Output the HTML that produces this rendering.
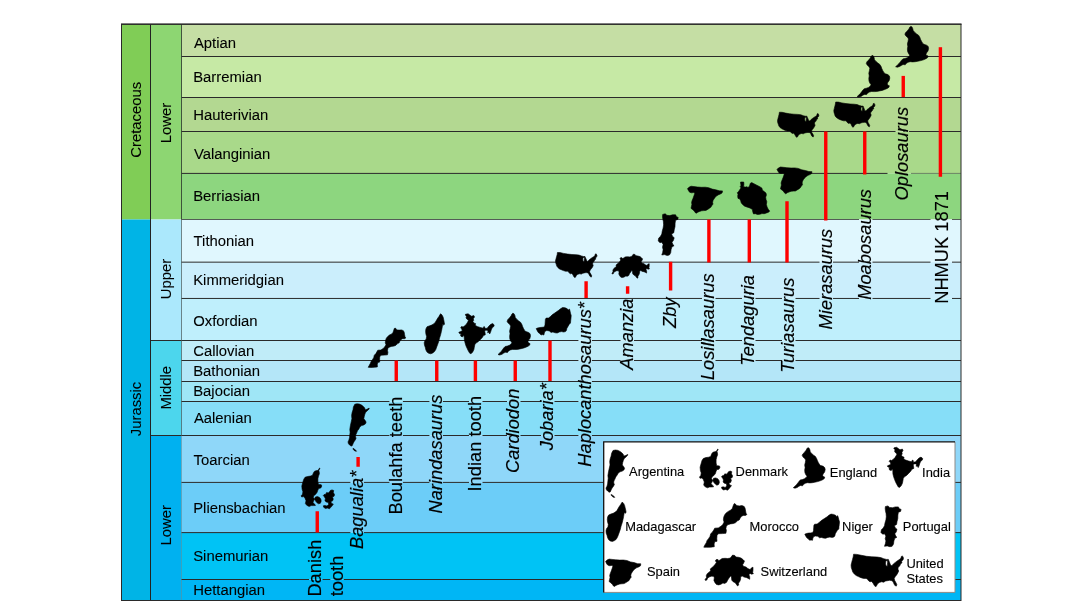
<!DOCTYPE html>
<html lang="en"><head><meta charset="utf-8"><title>Stratigraphic distribution of turiasaurian sauropods</title>
<style>html,body{margin:0;padding:0;background:#fff}body{width:1081px;height:604px;overflow:hidden}svg text{white-space:pre}</style>
</head><body>
<svg width="1081" height="604" viewBox="0 0 1081 604" style="display:block">
<rect width="1081" height="604" fill="#fff"/>
<rect x="121.5" y="24" width="29.0" height="195.5" fill="#80cd56"/>
<rect x="121.5" y="219.5" width="29.0" height="381.0" fill="#00b4e6"/>
<rect x="150.5" y="24" width="31.0" height="195.5" fill="#8dd672"/>
<rect x="150.5" y="219.5" width="31.0" height="121.0" fill="#abe8fc"/>
<rect x="150.5" y="340.5" width="31.0" height="95.0" fill="#4cd6ed"/>
<rect x="150.5" y="435.5" width="31.0" height="165.0" fill="#00b1f0"/>
<rect x="181.5" y="24" width="779.5" height="32.5" fill="#c5dea4"/>
<rect x="181.5" y="56.5" width="779.5" height="41.0" fill="#c6e9a5"/>
<rect x="181.5" y="97.5" width="779.5" height="34.0" fill="#b3d891"/>
<rect x="181.5" y="131.5" width="779.5" height="41.900000000000006" fill="#a9d98a"/>
<rect x="181.5" y="173.4" width="779.5" height="46.099999999999994" fill="#8dd67f"/>
<rect x="181.5" y="219.5" width="779.5" height="42.64999999999998" fill="#e0f7fe"/>
<rect x="181.5" y="262.15" width="779.5" height="36.30000000000001" fill="#cbeefc"/>
<rect x="181.5" y="298.45" width="779.5" height="42.05000000000001" fill="#bfeffc"/>
<rect x="181.5" y="340.5" width="779.5" height="20.0" fill="#c0ecf8"/>
<rect x="181.5" y="360.5" width="779.5" height="21.0" fill="#b4e6f8"/>
<rect x="181.5" y="381.5" width="779.5" height="20.0" fill="#9fe6f6"/>
<rect x="181.5" y="401.5" width="779.5" height="34.0" fill="#86def8"/>
<rect x="181.5" y="435.5" width="779.5" height="46.89999999999998" fill="#8fd7f9"/>
<rect x="181.5" y="482.4" width="779.5" height="50.200000000000045" fill="#6ccdf8"/>
<rect x="181.5" y="532.6" width="779.5" height="46.89999999999998" fill="#00c3f5"/>
<rect x="181.5" y="579.5" width="779.5" height="21.0" fill="#00b6f5"/>
<rect x="181.5" y="56.00" width="779.5" height="1" fill="#2a2a2a"/>
<rect x="181.5" y="97.00" width="779.5" height="1" fill="#2a2a2a"/>
<rect x="181.5" y="131.00" width="714.0" height="1" fill="#2a2a2a"/>
<rect x="909.0" y="131.00" width="52.0" height="1" fill="#2a2a2a"/>
<rect x="181.5" y="172.90" width="706.0" height="1" fill="#2a2a2a"/>
<rect x="911.0" y="172.90" width="50.0" height="1" fill="#2a2a2a" opacity="0.5"/>
<rect x="181.5" y="219.00" width="677.5" height="1" fill="#2a2a2a" opacity="0.75"/>
<rect x="872.5" y="219.00" width="58.0" height="1" fill="#2a2a2a" opacity="0.75"/>
<rect x="952.0" y="219.00" width="9.0" height="1" fill="#2a2a2a" opacity="0.75"/>
<rect x="181.5" y="261.65" width="638.0" height="1" fill="#2a2a2a"/>
<rect x="833.0" y="261.65" width="26.0" height="1" fill="#2a2a2a"/>
<rect x="872.5" y="261.65" width="58.0" height="1" fill="#2a2a2a"/>
<rect x="952.0" y="261.65" width="9.0" height="1" fill="#2a2a2a"/>
<rect x="181.5" y="297.95" width="520.5" height="1" fill="#2a2a2a"/>
<rect x="715.5" y="297.95" width="26.5" height="1" fill="#2a2a2a"/>
<rect x="755.5" y="297.95" width="26.5" height="1" fill="#2a2a2a"/>
<rect x="795.5" y="297.95" width="24.0" height="1" fill="#2a2a2a"/>
<rect x="833.0" y="297.95" width="26.0" height="1" fill="#2a2a2a"/>
<rect x="872.5" y="297.95" width="58.0" height="1" fill="#2a2a2a"/>
<rect x="952.0" y="297.95" width="9.0" height="1" fill="#2a2a2a"/>
<rect x="181.5" y="340.00" width="396.9" height="1" fill="#2a2a2a"/>
<rect x="591.9" y="340.00" width="28.6" height="1" fill="#2a2a2a"/>
<rect x="634.0" y="340.00" width="68.0" height="1" fill="#2a2a2a"/>
<rect x="715.5" y="340.00" width="26.5" height="1" fill="#2a2a2a"/>
<rect x="755.5" y="340.00" width="26.5" height="1" fill="#2a2a2a"/>
<rect x="795.5" y="340.00" width="165.5" height="1" fill="#2a2a2a"/>
<rect x="181.5" y="360.00" width="396.9" height="1" fill="#2a2a2a"/>
<rect x="591.9" y="360.00" width="28.6" height="1" fill="#2a2a2a"/>
<rect x="634.0" y="360.00" width="68.0" height="1" fill="#2a2a2a"/>
<rect x="715.5" y="360.00" width="26.5" height="1" fill="#2a2a2a"/>
<rect x="755.5" y="360.00" width="26.5" height="1" fill="#2a2a2a"/>
<rect x="795.5" y="360.00" width="165.5" height="1" fill="#2a2a2a"/>
<rect x="181.5" y="381.00" width="396.9" height="1" fill="#2a2a2a"/>
<rect x="591.9" y="381.00" width="369.1" height="1" fill="#2a2a2a"/>
<rect x="181.5" y="401.00" width="207.9" height="1" fill="#2a2a2a"/>
<rect x="402.9" y="401.00" width="26.5" height="1" fill="#2a2a2a"/>
<rect x="442.9" y="401.00" width="26.1" height="1" fill="#2a2a2a"/>
<rect x="482.5" y="401.00" width="24.5" height="1" fill="#2a2a2a"/>
<rect x="520.5" y="401.00" width="20.5" height="1" fill="#2a2a2a"/>
<rect x="554.5" y="401.00" width="23.9" height="1" fill="#2a2a2a"/>
<rect x="591.9" y="401.00" width="369.1" height="1" fill="#2a2a2a"/>
<rect x="181.5" y="435.00" width="207.9" height="1" fill="#2a2a2a"/>
<rect x="402.9" y="435.00" width="26.5" height="1" fill="#2a2a2a"/>
<rect x="442.9" y="435.00" width="26.1" height="1" fill="#2a2a2a"/>
<rect x="482.5" y="435.00" width="24.5" height="1" fill="#2a2a2a"/>
<rect x="520.5" y="435.00" width="20.5" height="1" fill="#2a2a2a"/>
<rect x="554.5" y="435.00" width="23.9" height="1" fill="#2a2a2a"/>
<rect x="591.9" y="435.00" width="369.1" height="1" fill="#2a2a2a"/>
<rect x="181.5" y="481.90" width="168.9" height="1" fill="#2a2a2a"/>
<rect x="363.9" y="481.90" width="25.5" height="1" fill="#2a2a2a"/>
<rect x="402.9" y="481.90" width="26.5" height="1" fill="#2a2a2a"/>
<rect x="442.9" y="481.90" width="26.1" height="1" fill="#2a2a2a"/>
<rect x="482.5" y="481.90" width="478.5" height="1" fill="#2a2a2a"/>
<rect x="181.5" y="532.10" width="168.9" height="1" fill="#2a2a2a"/>
<rect x="363.9" y="532.10" width="597.1" height="1" fill="#2a2a2a"/>
<rect x="181.5" y="579.00" width="127.5" height="1" fill="#2a2a2a"/>
<rect x="322.5" y="579.00" width="7.8" height="1" fill="#2a2a2a"/>
<rect x="343.8" y="579.00" width="617.2" height="1" fill="#2a2a2a"/>
<rect x="150.5" y="340.0" width="31.0" height="1" fill="#2a2a2a"/>
<rect x="150.5" y="435.0" width="31.0" height="1" fill="#2a2a2a"/>
<rect x="150.0" y="24" width="1" height="576.5" fill="#222"/>
<rect x="181.0" y="24" width="1" height="195.5" fill="#2a3a2a" opacity="0.85"/>
<rect x="181.0" y="219.5" width="1" height="216.0" fill="#2a3a3a" opacity="0.6"/>
<rect x="181.0" y="435.5" width="1" height="165.0" fill="#2a3a3a" opacity="0.3"/>
<rect x="121.5" y="24" width="839.5" height="576.5" fill="none" stroke="#2a2a2a" stroke-width="1"/>
<rect x="121.0" y="23.8" width="840.5" height="1.1" fill="#2a2a2a"/>
<g font-family="Liberation Sans, Arial, sans-serif" font-size="14.85" fill="#000" stroke="#000" stroke-width="0.08">
<text x="193.9" y="48.25">Aptian</text>
<text x="193.2" y="81.5">Barremian</text>
<text x="193.2" y="120">Hauterivian</text>
<text x="193.9" y="159.25">Valanginian</text>
<text x="193.2" y="201.25">Berriasian</text>
<text x="193.6" y="246.45">Tithonian</text>
<text x="193.2" y="285.2">Kimmeridgian</text>
<text x="193.2" y="325.75">Oxfordian</text>
<text x="193.2" y="355.75">Callovian</text>
<text x="193.2" y="375.75">Bathonian</text>
<text x="193.2" y="396.25">Bajocian</text>
<text x="193.9" y="423.25">Aalenian</text>
<text x="193.6" y="464.75">Toarcian</text>
<text x="193.2" y="513">Pliensbachian</text>
<text x="193.2" y="561">Sinemurian</text>
<text x="193.2" y="594.75">Hettangian</text>
<text transform="translate(141,119.75) rotate(-90)" text-anchor="middle" >Cretaceous</text>
<text transform="translate(141,409) rotate(-90)" text-anchor="middle" >Jurassic</text>
<text transform="translate(170.5,123.1) rotate(-90)" text-anchor="middle" >Lower</text>
<text transform="translate(170.5,279) rotate(-90)" text-anchor="middle" >Upper</text>
<text transform="translate(170.5,387.75) rotate(-90)" text-anchor="middle" >Middle</text>
<text transform="translate(170.5,525.25) rotate(-90)" text-anchor="middle" >Lower</text>
</g>
<rect x="315.55" y="511.25" width="3.4" height="21.25" fill="#fe0000"/>
<rect x="356.40" y="457" width="3.4" height="9.75" fill="#fe0000"/>
<rect x="394.55" y="360.5" width="3.4" height="20.50" fill="#fe0000"/>
<rect x="435.05" y="360.5" width="3.4" height="20.50" fill="#fe0000"/>
<rect x="473.70" y="360.5" width="3.4" height="20.50" fill="#fe0000"/>
<rect x="513.55" y="360.5" width="3.4" height="20.50" fill="#fe0000"/>
<rect x="548.30" y="340.5" width="3.4" height="40.50" fill="#fe0000"/>
<rect x="584.40" y="281.25" width="3.4" height="16.75" fill="#fe0000"/>
<rect x="625.90" y="286.25" width="3.4" height="7.50" fill="#fe0000"/>
<rect x="668.90" y="261.75" width="3.4" height="28.75" fill="#fe0000"/>
<rect x="707.20" y="219.5" width="3.4" height="43.00" fill="#fe0000"/>
<rect x="747.60" y="219.5" width="3.4" height="43.00" fill="#fe0000"/>
<rect x="785.30" y="201.25" width="3.4" height="61.25" fill="#fe0000"/>
<rect x="824.05" y="131.5" width="3.4" height="89.00" fill="#fe0000"/>
<rect x="863.05" y="131.5" width="3.4" height="43.00" fill="#fe0000"/>
<rect x="901.55" y="75.9" width="3.4" height="21.20" fill="#fe0000"/>
<rect x="938.70" y="47.2" width="3.4" height="129.55" fill="#fe0000"/>
<g font-family="Liberation Sans, Arial, sans-serif" font-size="18.3" fill="#000" stroke="#000" stroke-width="0.15">
<text transform="translate(321.3,596.6) rotate(-90)">Danish</text>
<text transform="translate(342.6,596.3) rotate(-90)">tooth</text>
<text transform="translate(362.7,549) rotate(-90)" font-style="italic">Bagualia*</text>
<text transform="translate(401.7,514.5) rotate(-90)">Boulahfa teeth</text>
<text transform="translate(441.7,513.5) rotate(-90)" font-style="italic">Narindasaurus</text>
<text transform="translate(481.3,491.5) rotate(-90)">Indian tooth</text>
<text transform="translate(519.3,473) rotate(-90)" font-style="italic">Cardiodon</text>
<text transform="translate(553.3,450.2) rotate(-90)" font-style="italic">Jobaria*</text>
<text transform="translate(590.7,466.7) rotate(-90)" font-style="italic">Haplocanthosaurus*</text>
<text transform="translate(632.8,369.7) rotate(-90)" font-style="italic">Amanzia</text>
<text transform="translate(675.8,328) rotate(-90)" font-style="italic">Zby</text>
<text transform="translate(714.3,380.1) rotate(-90)" font-style="italic">Losillasaurus</text>
<text transform="translate(754.3,365.8) rotate(-90)" font-style="italic">Tendaguria</text>
<text transform="translate(794.3,372.8) rotate(-90)" font-style="italic">Turiasaurus</text>
<text transform="translate(831.8,329.4) rotate(-90)" font-style="italic">Mierasaurus</text>
<text transform="translate(871.3,299.8) rotate(-90)" font-style="italic">Moabosaurus</text>
<text transform="translate(907.8,200.4) rotate(-90)" font-style="italic">Oplosaurus</text>
<text transform="translate(947.7,303.8) rotate(-90)">NHMUK 1871</text>
</g>
<g fill="#000" fill-rule="evenodd" stroke="#000" stroke-width="0.6" stroke-linejoin="round">
<path d="M319.6 468.0 L320.0 468.2 L318.8 470.5 L319.2 471.9 L319.4 473.7 L318.5 476.1 L317.9 478.6 L317.9 481.9 L318.5 484.5 L321.2 484.7 L321.8 486.0 L320.8 488.0 L318.7 488.4 L317.9 490.1 L317.0 492.5 L315.4 494.6 L313.7 495.8 L313.3 497.4 L314.6 499.1 L313.7 500.7 L312.9 502.4 L314.6 504.0 L315.4 505.5 L313.3 505.6 L311.2 505.6 L309.1 506.5 L306.7 505.2 L305.4 503.6 L306.0 500.7 L305.0 498.3 L303.7 496.6 L301.7 497.0 L301.2 495.8 L302.5 494.2 L302.9 491.7 L302.1 489.2 L301.8 486.0 L302.7 482.7 L303.7 479.4 L305.0 477.3 L307.5 476.5 L310.4 476.1 L312.5 475.3 L313.5 472.7 L314.6 471.2 L316.6 470.6 L318.0 470.4ZM315.4 497.0 L317.5 496.6 L319.5 497.4 L320.8 499.1 L321.2 501.1 L320.4 503.2 L318.7 503.8 L317.0 502.8 L315.6 501.1 L314.6 499.1ZM330.3 490.5 L332.0 489.9 L333.7 490.5 L333.3 492.5 L334.5 494.6 L334.1 496.2 L332.4 497.0 L333.3 499.1 L332.4 501.1 L330.8 501.5 L331.6 503.6 L333.3 504.0 L332.4 505.6 L330.8 507.3 L329.5 508.8 L327.4 508.1 L325.4 508.5 L323.7 507.3 L323.3 505.8 L324.9 505.5 L327.0 506.0 L328.7 504.4 L328.3 502.4 L326.2 501.9 L324.9 500.7 L325.4 498.7 L324.5 497.0 L323.3 495.4 L324.1 494.6 L325.8 494.2 L326.6 492.5 L328.3 492.9 L329.5 491.7Z"/>
<path d="M354.8 404.2 L357.0 403.8 L359.3 404.0 L361.6 405.1 L363.4 406.5 L364.7 407.9 L365.2 409.8 L367.0 409.3 L369.1 408.1 L369.2 408.9 L367.4 410.7 L365.8 412.1 L364.9 414.0 L364.3 416.3 L363.8 418.7 L365.2 420.5 L366.1 422.1 L365.5 423.8 L363.8 424.9 L361.6 425.6 L359.8 427.0 L358.9 428.9 L357.5 430.8 L356.6 433.1 L355.7 435.0 L355.5 436.8 L356.1 438.2 L355.2 440.1 L353.9 441.9 L353.0 443.8 L352.2 445.7 L351.2 446.1 L349.8 445.2 L348.5 443.8 L348.0 441.9 L348.9 440.1 L349.5 437.7 L349.8 435.0 L350.1 432.2 L349.8 429.4 L350.4 425.6 L351.2 421.9 L351.9 418.7 L351.6 415.4 L352.1 412.6 L353.0 409.8 L353.4 407.0ZM353.0 448.3 L354.3 449.1 L355.9 450.4 L356.6 451.2 L355.7 451.2 L354.1 450.4 L353.2 449.3Z"/>
<path d="M394.9 328.0 L396.0 328.6 L396.8 329.9 L399.2 330.1 L401.5 329.9 L403.4 330.7 L404.2 332.3 L404.6 334.7 L405.0 336.7 L405.8 337.9 L404.6 338.7 L402.6 338.7 L401.1 339.5 L399.9 341.1 L399.2 342.8 L397.6 343.6 L396.0 345.2 L394.1 346.0 L391.4 346.4 L389.1 347.2 L387.9 348.4 L387.5 350.4 L387.9 352.4 L387.5 354.8 L384.4 355.1 L380.9 355.2 L379.7 356.9 L379.6 359.7 L379.7 362.1 L377.8 362.5 L377.3 364.5 L377.4 366.9 L374.3 367.3 L370.8 367.5 L368.2 367.3 L369.3 365.3 L370.4 363.3 L371.2 361.3 L372.4 359.7 L373.7 357.7 L374.3 355.2 L375.9 353.6 L377.0 351.6 L377.8 350.2 L380.9 350.0 L383.2 348.4 L384.8 346.8 L386.0 344.8 L385.3 342.8 L385.6 340.3 L386.3 338.3 L387.5 336.7 L389.4 335.1 L391.8 333.9 L393.1 332.3 L393.7 330.3 L394.3 328.6Z"/>
<path d="M440.8 313.8 L442.0 315.0 L443.1 317.1 L443.7 319.6 L444.2 322.2 L444.5 324.3 L443.7 325.1 L442.8 324.3 L442.4 326.0 L442.0 328.5 L441.4 331.4 L440.6 334.8 L439.5 338.2 L438.7 341.5 L437.8 344.1 L436.7 347.0 L435.8 349.5 L434.5 351.6 L432.8 352.9 L430.8 353.8 L428.7 353.3 L427.0 352.1 L425.9 350.0 L425.3 347.4 L424.5 345.3 L424.2 342.8 L424.9 340.7 L426.2 339.0 L426.6 336.5 L425.9 334.0 L425.6 331.4 L425.9 328.9 L427.0 326.8 L429.1 326.0 L431.6 325.1 L433.7 323.9 L435.3 322.2 L436.6 320.1 L437.8 318.0 L439.1 316.3 L439.9 314.6Z"/>
<path d="M465.6 314.2 L468.1 313.8 L469.8 315.0 L471.4 316.2 L473.9 315.6 L474.5 317.0 L473.3 318.7 L473.7 320.3 L472.9 321.6 L474.3 323.2 L475.6 323.6 L475.2 325.3 L477.2 326.5 L480.1 327.4 L483.1 328.2 L483.9 326.5 L484.7 326.9 L485.0 328.6 L487.2 328.2 L488.9 326.1 L490.5 324.5 L492.6 323.5 L494.2 324.9 L493.8 326.5 L492.2 327.8 L491.3 329.8 L490.5 332.3 L489.7 334.0 L488.9 332.3 L487.6 332.7 L488.0 331.1 L487.2 330.2 L485.5 330.2 L484.7 331.1 L485.1 333.1 L485.3 334.8 L483.5 335.6 L482.2 337.7 L480.1 339.7 L478.1 341.8 L476.0 343.0 L474.8 344.7 L474.3 347.2 L473.9 349.6 L472.7 352.1 L471.0 353.8 L469.8 353.3 L468.5 351.3 L467.3 348.8 L466.0 345.9 L465.1 343.0 L464.4 340.1 L464.2 337.3 L464.0 335.2 L462.7 336.8 L461.1 336.4 L460.4 334.8 L461.5 334.0 L459.4 333.4 L458.8 332.3 L460.7 331.5 L462.3 330.7 L461.7 329.0 L460.7 327.8 L461.5 326.5 L463.1 326.9 L464.8 325.7 L466.5 324.1 L467.7 322.0 L468.5 320.3 L467.3 319.5 L466.0 317.9 L466.5 316.2 L465.2 315.0Z"/>
<path d="M512.8 313.2 L514.0 313.7 L514.9 315.4 L515.3 317.5 L516.7 319.2 L518.7 320.9 L520.5 322.2 L521.8 324.3 L522.6 326.5 L523.5 328.5 L524.6 330.4 L525.9 331.6 L527.1 331.9 L528.6 332.5 L530.1 333.7 L530.5 335.9 L529.9 338.4 L528.6 340.1 L527.9 341.8 L528.6 343.0 L530.0 343.6 L529.7 345.1 L528.0 346.3 L525.4 347.4 L522.9 348.3 L519.9 348.9 L517.4 349.4 L514.9 349.5 L512.4 349.4 L510.2 350.0 L508.3 351.2 L507.5 352.5 L505.3 352.3 L503.7 353.1 L502.0 354.3 L499.7 355.0 L498.0 354.5 L499.7 353.0 L501.4 351.2 L502.6 349.5 L503.9 347.8 L505.2 346.5 L507.3 346.1 L509.4 345.3 L511.1 344.0 L511.9 342.7 L510.7 341.0 L509.8 338.9 L509.6 336.3 L510.0 333.7 L509.6 331.2 L510.2 328.6 L510.7 326.1 L509.6 324.3 L508.1 323.1 L507.1 321.4 L507.7 319.7 L509.4 317.9 L511.1 315.8 L511.9 314.1Z"/>
<path d="M562.6 307.5 L565.1 307.8 L567.3 308.8 L568.4 309.9 L569.5 309.1 L570.0 311.0 L570.5 313.3 L571.2 315.5 L571.0 318.1 L570.7 320.8 L570.5 323.0 L569.1 324.5 L568.0 326.4 L566.9 328.3 L566.4 330.5 L565.5 331.6 L563.7 332.0 L561.5 331.6 L559.4 332.0 L557.2 333.0 L555.1 332.8 L552.9 332.0 L551.1 332.4 L549.3 330.9 L546.8 330.5 L545.0 331.3 L544.3 333.1 L543.9 335.0 L542.5 334.6 L541.1 335.0 L539.6 333.5 L538.2 332.4 L537.1 330.5 L536.2 328.6 L537.8 327.9 L540.0 327.5 L542.1 327.3 L544.3 327.0 L545.0 324.9 L545.2 321.9 L545.4 319.3 L546.1 318.1 L548.6 318.0 L550.4 316.6 L552.2 314.8 L554.4 313.3 L556.5 311.8 L558.7 310.3 L560.5 308.8Z"/>
<path d="M557.4 252.5 L560.1 252.6 L563.6 253.4 L567.8 254.1 L571.9 254.5 L576.0 254.7 L579.0 255.1 L581.4 255.9 L583.4 256.5 L585.0 256.5 L585.5 257.8 L586.1 259.1 L586.7 260.8 L587.8 261.4 L589.0 260.0 L590.5 258.8 L592.0 257.7 L593.5 256.8 L594.9 255.7 L595.2 254.2 L596.1 253.8 L597.0 255.4 L596.7 256.8 L595.5 258.0 L595.8 259.1 L594.6 260.0 L594.0 261.4 L592.9 262.6 L592.6 264.0 L593.2 265.4 L592.6 266.9 L591.7 268.3 L590.5 269.7 L589.6 271.2 L589.9 272.6 L590.8 274.1 L591.7 275.8 L591.4 277.1 L590.2 276.6 L589.3 275.2 L588.7 273.8 L587.8 272.9 L586.1 272.6 L584.3 272.9 L582.8 273.2 L581.4 274.1 L579.6 273.8 L577.8 274.3 L576.3 275.5 L575.5 277.2 L574.6 277.5 L573.7 276.4 L572.8 274.6 L571.6 273.5 L570.4 273.8 L569.5 273.2 L568.7 272.0 L567.5 271.2 L565.4 271.2 L563.4 270.6 L561.3 269.7 L559.5 268.9 L558.0 267.7 L556.9 266.3 L556.3 264.6 L555.7 262.8 L555.5 260.8 L556.0 258.8 L556.6 256.5 L557.2 254.5ZM583.0 257.7 L584.2 257.3 L584.5 258.5 L584.2 260.3 L584.1 261.8 L583.2 261.5 L582.8 260.0 L582.9 258.7Z"/>
<path d="M633.3 254.2 L635.0 254.5 L635.9 255.7 L637.9 256.0 L640.0 256.6 L641.4 257.7 L642.6 258.9 L642.0 260.4 L641.1 261.8 L641.7 263.0 L643.7 263.5 L645.2 264.7 L646.9 265.6 L648.1 264.1 L649.2 263.7 L649.2 265.9 L648.9 267.9 L649.5 268.8 L648.1 269.2 L646.9 268.5 L646.0 269.6 L646.6 271.1 L646.6 273.1 L645.2 272.3 L644.0 271.7 L642.3 271.4 L640.8 270.5 L639.7 271.1 L639.5 273.0 L639.0 274.6 L637.9 276.2 L638.0 277.7 L637.1 278.2 L636.3 277.1 L635.3 275.8 L633.8 275.0 L632.7 273.8 L632.4 271.1 L631.8 270.5 L630.7 272.0 L629.5 273.7 L628.7 275.5 L627.2 276.3 L625.8 276.0 L624.3 276.9 L622.6 277.5 L620.9 277.2 L619.7 275.8 L618.8 274.0 L619.1 272.0 L618.5 270.8 L616.8 270.7 L615.1 271.4 L613.9 272.3 L613.3 273.7 L612.2 274.0 L612.0 273.1 L613.0 272.0 L612.9 270.2 L613.6 268.8 L615.1 267.6 L616.2 266.5 L616.1 265.0 L617.1 264.1 L618.5 263.0 L620.0 261.2 L620.9 259.8 L619.9 258.9 L620.6 257.7 L622.0 257.7 L622.6 258.6 L623.7 257.9 L625.2 256.9 L627.5 256.7 L629.5 256.9 L631.6 256.6 L632.4 255.4Z"/>
<path d="M662.7 214.4 L665.4 213.8 L666.7 215.3 L669.8 215.6 L672.5 214.8 L675.6 214.8 L676.5 216.7 L678.2 217.4 L677.8 219.4 L675.6 220.3 L675.1 223.1 L675.0 226.7 L674.2 229.9 L673.8 232.7 L671.6 234.0 L672.5 236.3 L674.2 237.7 L673.4 240.4 L672.0 242.3 L672.9 244.5 L674.1 245.7 L672.0 246.8 L671.1 249.6 L670.7 252.8 L669.4 255.0 L667.1 255.5 L664.5 254.6 L661.8 255.0 L662.7 252.3 L663.1 249.6 L662.5 247.3 L663.1 244.5 L661.8 242.3 L660.0 242.7 L658.2 240.9 L658.7 238.1 L660.5 236.3 L661.8 234.0 L662.2 231.3 L663.1 228.1 L663.6 224.9 L663.4 221.7 L662.7 218.5 L662.5 216.2Z"/>
<path d="M691.0 186.2 L693.9 186.6 L697.4 187.0 L701.6 187.3 L705.2 187.2 L708.7 187.7 L712.2 189.1 L715.8 189.8 L719.3 190.8 L722.5 190.9 L722.1 192.9 L720.4 194.0 L718.6 194.7 L716.8 195.7 L715.4 197.1 L714.0 198.9 L713.0 200.6 L712.6 202.4 L713.0 204.1 L711.9 205.5 L710.8 207.3 L709.4 208.3 L707.7 209.4 L705.9 210.4 L703.8 210.6 L701.6 210.8 L699.5 211.5 L697.8 212.2 L696.3 213.2 L695.3 212.7 L694.2 211.1 L692.8 209.7 L691.0 208.3 L691.4 206.6 L691.9 204.5 L691.6 202.4 L692.1 200.6 L692.8 198.9 L693.5 197.1 L694.2 195.0 L694.9 192.9 L693.5 192.6 L691.4 192.8 L689.6 192.2 L688.6 190.8 L687.5 188.7 L688.9 187.3Z"/>
<path d="M740.6 182.0 L743.7 182.0 L743.9 184.1 L743.6 186.7 L745.4 187.1 L746.9 186.7 L748.0 187.5 L749.6 186.0 L750.2 183.4 L751.7 182.6 L753.9 183.7 L756.8 185.2 L759.8 186.7 L762.0 188.2 L762.3 190.1 L764.2 191.6 L766.0 193.1 L766.4 195.0 L765.7 197.2 L766.0 199.5 L766.8 201.7 L766.4 204.4 L767.1 207.0 L768.2 209.2 L769.7 211.1 L768.6 212.2 L766.4 213.0 L764.2 213.7 L762.0 213.6 L759.8 214.3 L757.5 214.5 L755.3 213.7 L753.5 213.9 L752.8 211.9 L752.4 209.6 L750.9 208.5 L749.1 207.7 L746.9 207.0 L744.7 206.2 L742.8 204.7 L741.3 202.9 L740.6 200.6 L739.5 198.7 L738.0 198.4 L737.7 196.1 L738.0 194.2 L737.3 192.7 L738.8 191.2 L739.9 189.4 L741.0 187.9 L740.2 186.7 L741.0 185.2 L740.6 183.4Z"/>
<path d="M780.5 167.0 L783.4 167.3 L786.9 167.7 L791.1 168.0 L794.7 167.9 L798.2 168.4 L801.7 169.8 L805.3 170.5 L808.8 171.5 L812.0 171.7 L811.6 173.6 L809.9 174.6 L808.1 175.3 L806.3 176.4 L804.9 177.8 L803.5 179.5 L802.5 181.2 L802.1 183.0 L802.5 184.7 L801.4 186.1 L800.3 187.8 L798.9 188.9 L797.2 189.9 L795.4 191.0 L793.3 191.1 L791.1 191.3 L789.0 192.0 L787.3 192.7 L785.8 193.8 L784.8 193.2 L783.7 191.7 L782.3 190.3 L780.5 188.9 L780.9 187.1 L781.4 185.1 L781.1 183.0 L781.6 181.2 L782.3 179.5 L783.0 177.8 L783.7 175.7 L784.4 173.6 L783.0 173.3 L780.9 173.5 L779.1 172.9 L778.1 171.5 L777.0 169.4 L778.4 168.0Z"/>
<path d="M779.4 112.2 L782.1 112.3 L785.6 113.1 L789.7 113.8 L793.9 114.2 L798.0 114.4 L800.9 114.8 L803.3 115.7 L805.4 116.2 L806.9 116.2 L807.4 117.5 L808.0 118.8 L808.6 120.6 L809.8 121.1 L810.9 119.7 L812.4 118.5 L813.9 117.4 L815.4 116.5 L816.8 115.4 L817.1 113.9 L818.0 113.5 L818.9 115.1 L818.6 116.5 L817.4 117.7 L817.7 118.8 L816.5 119.7 L816.0 121.1 L814.8 122.3 L814.5 123.7 L815.1 125.2 L814.5 126.6 L813.6 128.1 L812.4 129.5 L811.5 131.0 L811.8 132.4 L812.7 133.8 L813.6 135.6 L813.3 136.9 L812.1 136.4 L811.2 135.0 L810.7 133.5 L809.8 132.7 L808.0 132.4 L806.2 132.7 L804.8 133.0 L803.3 133.8 L801.5 133.5 L799.8 134.1 L798.3 135.3 L797.4 137.0 L796.5 137.3 L795.6 136.1 L794.8 134.4 L793.6 133.3 L792.4 133.5 L791.5 133.0 L790.6 131.8 L789.5 131.0 L787.4 131.0 L785.3 130.4 L783.3 129.5 L781.5 128.6 L780.0 127.5 L778.9 126.0 L778.3 124.3 L777.7 122.6 L777.5 120.6 L778.0 118.5 L778.6 116.2 L779.1 114.2ZM804.9 117.4 L806.1 117.0 L806.4 118.3 L806.2 120.0 L806.1 121.5 L805.1 121.3 L804.7 119.7 L804.8 118.4Z"/>
<path d="M835.7 102.0 L838.4 102.1 L841.9 102.9 L846.0 103.6 L850.1 104.0 L854.2 104.2 L857.1 104.6 L859.5 105.5 L861.5 106.1 L863.1 106.1 L863.6 107.3 L864.2 108.7 L864.7 110.4 L865.9 111.0 L867.1 109.5 L868.6 108.4 L870.0 107.2 L871.5 106.3 L872.9 105.2 L873.2 103.7 L874.1 103.3 L875.0 104.9 L874.7 106.3 L873.5 107.5 L873.8 108.7 L872.7 109.5 L872.1 111.0 L870.9 112.1 L870.6 113.6 L871.2 115.0 L870.6 116.5 L869.7 117.9 L868.6 119.4 L867.7 120.8 L868.0 122.3 L868.8 123.7 L869.7 125.5 L869.4 126.8 L868.3 126.3 L867.4 124.9 L866.8 123.4 L865.9 122.6 L864.2 122.3 L862.4 122.6 L860.9 122.9 L859.5 123.7 L857.7 123.4 L856.0 124.0 L854.5 125.2 L853.6 126.9 L852.7 127.2 L851.9 126.0 L851.0 124.3 L849.8 123.1 L848.6 123.4 L847.7 122.9 L846.9 121.7 L845.7 120.8 L843.6 120.8 L841.6 120.2 L839.5 119.4 L837.8 118.5 L836.3 117.4 L835.1 115.9 L834.6 114.2 L834.0 112.4 L833.8 110.4 L834.3 108.4 L834.9 106.1 L835.4 104.0ZM861.1 107.2 L862.3 106.8 L862.6 108.1 L862.3 109.8 L862.2 111.3 L861.3 111.1 L860.9 109.5 L861.0 108.3Z"/>
<path d="M872.0 55.4 L873.2 55.8 L874.1 57.5 L874.5 59.7 L876.0 61.4 L877.9 63.1 L879.8 64.4 L881.1 66.5 L881.8 68.6 L882.8 70.7 L883.9 72.5 L885.1 73.7 L886.4 74.1 L887.8 74.6 L889.4 75.9 L889.8 78.0 L889.2 80.6 L887.9 82.3 L887.2 83.9 L887.9 85.2 L889.3 85.7 L889.0 87.2 L887.3 88.4 L884.7 89.5 L882.2 90.4 L879.2 91.0 L876.6 91.5 L874.1 91.6 L871.5 91.5 L869.4 92.1 L867.5 93.3 L866.6 94.6 L864.5 94.4 L862.8 95.2 L861.1 96.4 L858.8 97.1 L857.1 96.6 L858.8 95.1 L860.5 93.3 L861.8 91.6 L863.0 89.9 L864.3 88.7 L866.4 88.2 L868.6 87.4 L870.3 86.1 L871.1 84.8 L869.8 83.1 L869.0 81.0 L868.8 78.4 L869.2 75.9 L868.8 73.3 L869.4 70.7 L869.8 68.2 L868.8 66.5 L867.3 65.2 L866.3 63.5 L866.9 61.8 L868.6 60.1 L870.3 58.0 L871.1 56.3Z"/>
<path d="M910.6 26.4 L911.9 26.8 L912.7 28.5 L913.2 30.6 L914.6 32.2 L916.6 33.9 L918.5 35.2 L919.8 37.2 L920.5 39.3 L921.5 41.3 L922.6 43.2 L923.9 44.3 L925.2 44.7 L926.6 45.2 L928.2 46.4 L928.6 48.5 L928.0 51.0 L926.7 52.7 L925.9 54.3 L926.7 55.5 L928.1 56.0 L927.7 57.5 L926.0 58.7 L923.5 59.8 L920.9 60.6 L917.9 61.2 L915.3 61.7 L912.7 61.9 L910.2 61.7 L908.0 62.3 L906.1 63.5 L905.2 64.8 L903.1 64.5 L901.3 65.4 L899.6 66.5 L897.3 67.2 L895.6 66.7 L897.3 65.2 L899.0 63.5 L900.3 61.9 L901.6 60.2 L902.9 58.9 L905.0 58.5 L907.2 57.7 L908.9 56.4 L909.7 55.2 L908.5 53.5 L907.6 51.4 L907.4 48.9 L907.8 46.4 L907.4 43.9 L908.0 41.4 L908.5 38.9 L907.4 37.2 L905.9 36.0 L904.9 34.3 L905.5 32.7 L907.2 31.0 L908.9 28.9 L909.7 27.2Z"/>
</g>
<rect x="603.7" y="441.8" width="351.29999999999995" height="150.59999999999997" fill="#fff"/>
<path d="M955.0 441.8V592.4H603.7" fill="none" stroke="#8f8a86" stroke-width="1"/>
<path d="M603.7 592.4V441.8H955.0" fill="none" stroke="#111" stroke-width="1.3"/>
<g fill="#000" fill-rule="evenodd" stroke="#000" stroke-width="0.6" stroke-linejoin="round">
<path d="M613.0 450.5 L615.3 450.0 L617.6 450.3 L620.0 451.4 L621.8 452.8 L623.2 454.2 L623.7 456.1 L625.5 455.6 L627.7 454.4 L627.8 455.1 L626.0 457.0 L624.3 458.4 L623.4 460.2 L622.7 462.6 L622.3 464.9 L623.7 466.7 L624.6 468.3 L623.9 470.0 L622.3 471.1 L620.0 471.8 L618.1 473.2 L617.2 475.1 L615.8 476.9 L614.8 479.3 L613.9 481.1 L613.7 483.0 L614.4 484.4 L613.5 486.2 L612.1 488.1 L611.1 489.9 L610.4 491.8 L609.3 492.3 L607.9 491.3 L606.5 489.9 L606.0 488.1 L607.0 486.2 L607.6 483.9 L607.9 481.1 L608.2 478.3 L607.9 475.6 L608.5 471.8 L609.3 468.1 L610.0 464.9 L609.7 461.6 L610.2 458.8 L611.1 456.1 L611.6 453.3ZM611.1 494.4 L612.5 495.2 L614.1 496.5 L614.8 497.3 L613.9 497.4 L612.3 496.5 L611.3 495.4Z"/>
<path d="M717.8 449.0 L718.2 449.3 L717.0 451.6 L717.4 452.9 L717.6 454.8 L716.7 457.2 L716.1 459.7 L716.1 463.0 L716.7 465.7 L719.4 465.9 L720.0 467.2 L719.0 469.2 L716.9 469.6 L716.1 471.3 L715.3 473.8 L713.6 475.8 L712.0 477.1 L711.5 478.7 L712.8 480.4 L712.0 482.0 L711.1 483.7 L712.8 485.4 L713.6 486.8 L711.5 487.0 L709.5 487.0 L707.4 487.8 L704.9 486.6 L703.7 484.9 L704.3 482.0 L703.3 479.6 L702.0 477.9 L700.0 478.3 L699.5 477.1 L700.8 475.4 L701.2 472.9 L700.4 470.5 L700.1 467.2 L701.0 463.9 L702.0 460.5 L703.3 458.5 L705.8 457.6 L708.6 457.2 L710.7 456.4 L711.7 453.8 L712.9 452.3 L714.9 451.7 L716.2 451.4ZM713.6 478.3 L715.7 477.9 L717.7 478.7 L719.0 480.4 L719.4 482.5 L718.6 484.5 L716.9 485.2 L715.3 484.1 L713.9 482.5 L712.8 480.4ZM728.5 471.7 L730.2 471.1 L731.8 471.7 L731.4 473.8 L732.6 475.8 L732.2 477.5 L730.6 478.3 L731.4 480.4 L730.6 482.5 L728.9 482.9 L729.7 484.9 L731.4 485.4 L730.6 487.0 L728.9 488.7 L727.7 490.2 L725.6 489.5 L723.5 489.9 L721.9 488.7 L721.5 487.2 L723.1 486.8 L725.2 487.4 L726.8 485.8 L726.4 483.7 L724.4 483.3 L723.1 482.0 L723.5 480.0 L722.7 478.3 L721.5 476.7 L722.3 475.8 L723.9 475.4 L724.8 473.8 L726.4 474.2 L727.7 472.9Z"/>
<path d="M807.8 447.7 L809.0 448.1 L809.9 449.8 L810.3 451.9 L811.7 453.5 L813.6 455.2 L815.4 456.4 L816.6 458.5 L817.4 460.5 L818.3 462.5 L819.4 464.3 L820.6 465.5 L821.8 465.8 L823.3 466.3 L824.7 467.6 L825.2 469.6 L824.6 472.1 L823.3 473.8 L822.6 475.3 L823.3 476.6 L824.7 477.1 L824.3 478.6 L822.7 479.7 L820.2 480.8 L817.7 481.6 L814.8 482.2 L812.3 482.7 L809.9 482.9 L807.4 482.7 L805.3 483.3 L803.4 484.5 L802.6 485.8 L800.5 485.5 L798.9 486.3 L797.2 487.5 L795.0 488.2 L793.3 487.7 L795.0 486.2 L796.6 484.5 L797.9 482.9 L799.1 481.2 L800.3 480.0 L802.4 479.6 L804.5 478.7 L806.1 477.5 L807.0 476.3 L805.7 474.6 L804.9 472.5 L804.7 470.1 L805.1 467.6 L804.7 465.1 L805.3 462.6 L805.7 460.1 L804.7 458.5 L803.2 457.2 L802.2 455.6 L802.8 453.9 L804.5 452.3 L806.1 450.2 L807.0 448.5Z"/>
<path d="M894.2 447.7 L896.6 447.3 L898.3 448.5 L900.0 449.8 L902.4 449.1 L903.0 450.6 L901.9 452.3 L902.2 453.9 L901.4 455.2 L902.9 456.8 L904.1 457.2 L903.7 458.9 L905.7 460.1 L908.6 461.0 L911.5 461.8 L912.4 460.1 L913.2 460.5 L913.4 462.2 L915.7 461.8 L917.3 459.7 L919.0 458.1 L921.0 457.1 L922.7 458.5 L922.3 460.1 L920.6 461.4 L919.8 463.4 L919.0 465.9 L918.2 467.6 L917.3 465.9 L916.1 466.3 L916.5 464.7 L915.7 463.9 L914.0 463.9 L913.2 464.7 L913.6 466.7 L913.8 468.4 L911.9 469.2 L910.7 471.3 L908.6 473.4 L906.6 475.4 L904.5 476.7 L903.3 478.3 L902.9 480.8 L902.4 483.3 L901.2 485.8 L899.5 487.4 L898.3 487.0 L897.1 484.9 L895.8 482.5 L894.6 479.6 L893.6 476.7 L892.9 473.8 L892.8 470.9 L892.5 468.8 L891.3 470.5 L889.6 470.1 L889.0 468.4 L890.0 467.6 L888.0 467.0 L887.3 465.9 L889.2 465.1 L890.9 464.3 L890.3 462.6 L889.2 461.4 L890.0 460.1 L891.7 460.5 L893.3 459.3 L895.0 457.6 L896.2 455.6 L897.1 453.9 L895.8 453.1 L894.6 451.4 L895.0 449.8 L893.8 448.5Z"/>
<path d="M622.3 502.1 L623.6 503.4 L624.6 505.4 L625.2 507.9 L625.8 510.4 L626.1 512.5 L625.2 513.3 L624.4 512.5 L624.0 514.1 L623.6 516.6 L623.0 519.5 L622.2 522.8 L621.1 526.1 L620.3 529.4 L619.4 531.9 L618.4 534.8 L617.4 537.3 L616.1 539.4 L614.5 540.6 L612.4 541.4 L610.3 541.0 L608.7 539.8 L607.6 537.7 L607.0 535.2 L606.2 533.2 L606.0 530.7 L606.6 528.6 L607.9 526.9 L608.3 524.5 L607.6 522.0 L607.3 519.5 L607.6 517.0 L608.7 515.0 L610.8 514.1 L613.2 513.3 L615.3 512.1 L617.0 510.4 L618.2 508.3 L619.4 506.3 L620.7 504.6 L621.5 503.0Z"/>
<path d="M734.4 503.5 L735.7 504.3 L736.6 505.6 L739.3 505.9 L742.0 505.6 L744.2 506.5 L745.1 508.3 L745.6 511.0 L746.0 513.2 L746.9 514.5 L745.6 515.4 L743.3 515.4 L741.6 516.3 L740.2 518.1 L739.3 519.9 L737.5 520.8 L735.7 522.6 L733.5 523.5 L730.4 523.9 L727.7 524.8 L726.4 526.2 L725.9 528.4 L726.4 530.6 L725.9 533.3 L722.3 533.6 L718.3 533.7 L717.0 535.5 L716.8 538.7 L717.0 541.3 L714.7 541.8 L714.1 544.0 L714.3 546.7 L710.7 547.2 L706.7 547.3 L703.8 547.2 L704.9 544.9 L706.3 542.7 L707.1 540.4 L708.5 538.7 L710.0 536.4 L710.7 533.7 L712.5 532.0 L713.9 529.7 L714.7 528.2 L718.3 527.9 L721.0 526.2 L722.8 524.4 L724.1 522.1 L723.4 519.9 L723.7 517.2 L724.6 515.0 L725.9 513.2 L728.2 511.4 L730.8 510.1 L732.4 508.3 L733.1 506.0 L733.8 504.3Z"/>
<path d="M831.0 514.1 L833.5 514.4 L835.6 515.3 L836.7 516.4 L837.7 515.7 L838.3 517.5 L838.8 519.6 L839.5 521.7 L839.3 524.2 L839.0 526.7 L838.8 528.9 L837.4 530.3 L836.3 532.1 L835.3 533.8 L834.8 536.0 L833.8 537.1 L832.1 537.4 L829.9 537.1 L827.8 537.4 L825.6 538.3 L823.5 538.1 L821.4 537.4 L819.6 537.8 L817.8 536.3 L815.3 536.0 L813.5 536.7 L812.8 538.5 L812.5 540.3 L811.0 539.9 L809.6 540.3 L808.2 538.8 L806.8 537.8 L805.7 536.0 L804.8 534.2 L806.4 533.5 L808.5 533.1 L810.7 532.9 L812.8 532.6 L813.5 530.6 L813.7 527.8 L813.9 525.3 L814.6 524.2 L817.1 524.1 L818.9 522.8 L820.7 521.0 L822.8 519.6 L824.9 518.2 L827.1 516.8 L828.8 515.3Z"/>
<path d="M885.4 506.5 L888.1 505.9 L889.4 507.4 L892.6 507.7 L895.3 506.9 L898.4 506.9 L899.3 508.7 L901.1 509.4 L900.6 511.4 L898.4 512.3 L897.9 515.0 L897.8 518.6 L897.0 521.7 L896.6 524.4 L894.4 525.7 L895.3 528.0 L897.0 529.3 L896.2 532.0 L894.8 533.8 L895.7 536.0 L896.9 537.2 L894.8 538.3 L893.9 540.9 L893.5 544.1 L892.1 546.3 L889.9 546.7 L887.2 545.9 L884.5 546.3 L885.4 543.6 L885.9 540.9 L885.2 538.7 L885.9 536.0 L884.5 533.8 L882.7 534.2 L880.9 532.4 L881.4 529.8 L883.2 528.0 L884.5 525.7 L885.0 523.0 L885.9 519.9 L886.3 516.8 L886.1 513.7 L885.4 510.5 L885.2 508.3Z"/>
<path d="M609.1 559.1 L612.0 559.4 L615.5 559.8 L619.8 560.1 L623.4 560.0 L626.9 560.5 L630.5 561.9 L634.1 562.6 L637.6 563.7 L640.8 563.8 L640.5 565.8 L638.7 566.9 L636.9 567.6 L635.1 568.7 L633.7 570.1 L632.3 571.9 L631.2 573.7 L630.8 575.4 L631.2 577.2 L630.1 578.6 L629.1 580.4 L627.6 581.5 L625.9 582.6 L624.1 583.6 L621.9 583.8 L619.8 584.0 L617.7 584.7 L615.9 585.4 L614.5 586.5 L613.4 585.9 L612.3 584.3 L610.9 582.9 L609.1 581.5 L609.5 579.7 L610.0 577.6 L609.7 575.4 L610.2 573.7 L610.9 571.9 L611.6 570.1 L612.3 568.0 L613.0 565.8 L611.6 565.5 L609.5 565.7 L607.7 565.1 L606.6 563.7 L605.6 561.5 L607.0 560.1Z"/>
<path d="M732.6 555.1 L734.8 555.5 L735.9 557.0 L738.5 557.3 L741.1 558.1 L743.0 559.6 L744.5 561.1 L743.7 562.9 L742.6 564.8 L743.4 566.3 L746.0 567.0 L747.8 568.5 L750.1 569.6 L751.6 567.8 L753.0 567.2 L753.0 570.0 L752.7 572.6 L753.4 573.7 L751.6 574.2 L750.1 573.4 L748.9 574.8 L749.7 576.7 L749.7 579.3 L747.8 578.2 L746.3 577.5 L744.1 577.1 L742.2 576.0 L740.7 576.7 L740.6 579.2 L739.9 581.2 L738.5 583.2 L738.7 585.1 L737.5 585.9 L736.4 584.4 L735.2 582.7 L733.1 581.7 L731.8 580.2 L731.4 576.7 L730.7 576.0 L729.2 577.8 L727.7 580.1 L726.6 582.3 L724.7 583.4 L722.9 583.0 L721.0 584.2 L718.8 584.9 L716.5 584.5 L715.0 582.7 L713.9 580.4 L714.3 577.8 L713.5 576.3 L711.3 576.2 L709.1 577.1 L707.6 578.2 L706.8 580.1 L705.4 580.4 L705.1 579.3 L706.5 577.8 L706.3 575.6 L707.2 573.7 L709.1 572.2 L710.6 570.7 L710.3 568.9 L711.7 567.8 L713.5 566.3 L715.4 564.0 L716.5 562.2 L715.3 561.1 L716.2 559.6 L718.0 559.6 L718.8 560.7 L720.3 559.8 L722.1 558.5 L725.1 558.3 L727.7 558.5 L730.3 558.1 L731.4 556.6Z"/>
<path d="M853.6 554.2 L856.9 554.4 L861.4 555.3 L866.6 556.3 L871.8 556.8 L877.0 557.0 L880.8 557.6 L883.7 558.7 L886.4 559.4 L888.4 559.4 L889.0 561.1 L889.7 562.8 L890.5 565.0 L891.9 565.8 L893.4 563.9 L895.3 562.4 L897.2 560.9 L899.0 559.8 L900.9 558.3 L901.3 556.5 L902.4 555.9 L903.5 557.9 L903.1 559.8 L901.6 561.3 L902.0 562.8 L900.5 563.9 L899.8 565.8 L898.3 567.3 L897.9 569.1 L898.7 571.0 L897.9 572.8 L896.8 574.7 L895.3 576.6 L894.2 578.4 L894.6 580.3 L895.7 582.2 L896.8 584.4 L896.4 586.1 L894.9 585.5 L893.8 583.6 L893.1 581.8 L891.9 580.7 L889.7 580.3 L887.5 580.7 L885.6 581.0 L883.7 582.2 L881.5 581.8 L879.3 582.5 L877.4 584.0 L876.3 586.3 L875.2 586.6 L874.1 585.1 L872.9 582.9 L871.5 581.4 L870.0 581.8 L868.8 581.0 L867.7 579.6 L866.2 578.4 L863.6 578.4 L861.0 577.7 L858.4 576.6 L856.2 575.5 L854.3 574.0 L852.8 572.1 L852.1 569.9 L851.3 567.6 L851.1 565.0 L851.7 562.4 L852.5 559.4 L853.2 556.8ZM885.8 560.9 L887.3 560.4 L887.7 562.0 L887.4 564.3 L887.3 566.2 L886.1 565.9 L885.5 563.9 L885.7 562.3Z"/>
</g>
<g font-family="Liberation Sans, Arial, sans-serif" font-size="12.9" fill="#000" stroke="#000" stroke-width="0.12">
<text x="629.1" y="476.3">Argentina</text>
<text x="735.6" y="476.3">Denmark</text>
<text x="829.8" y="476.5">England</text>
<text x="922.1" y="476.5">India</text>
<text x="625.2" y="530.8">Madagascar</text>
<text x="749.6" y="530.8">Morocco</text>
<text x="842.1" y="530.9">Niger</text>
<text x="902.8" y="531">Portugal</text>
<text x="647.0" y="575.75">Spain</text>
<text x="760.6" y="575.75">Switzerland</text>
<text x="906.4" y="567.7">United</text>
<text x="906.4" y="583.2">States</text>
</g>
</svg>
</body></html>
